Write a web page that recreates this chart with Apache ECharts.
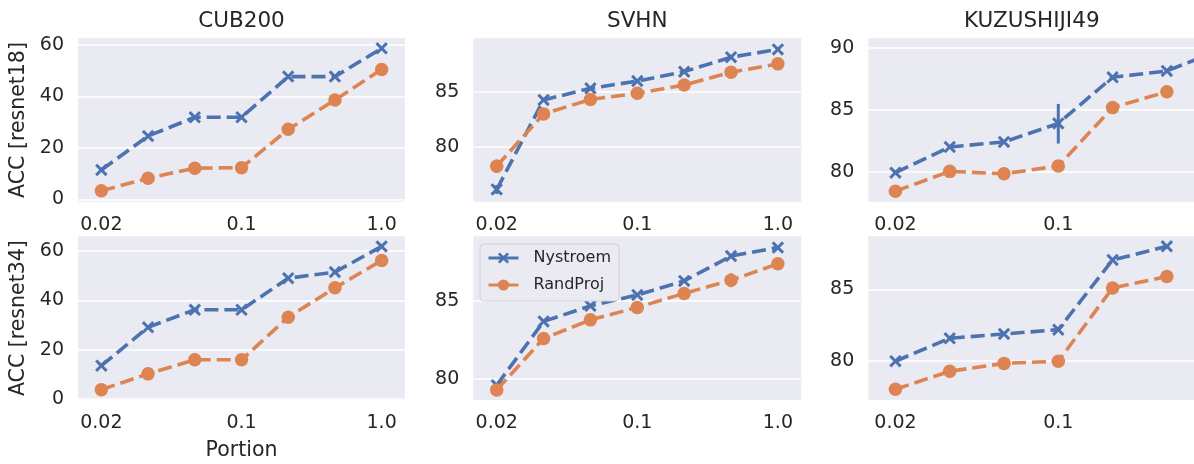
<!DOCTYPE html>
<html>
<head>
<meta charset="utf-8">
<script src="https://cdn.jsdelivr.net/npm/echarts@6/dist/echarts.min.js"></script>
<style>html,body{margin:0;padding:0;background:#fff}#c{width:1194px;height:464px}</style>
</head>
<body>
<div id="c"></div>
<script>
// ---- data ----
const datasets = ['CUB200', 'SVHN', 'KUZUSHIJI49'];
const models = ['resnet18', 'resnet34'];
const methods = ['Nystroem', 'RandProj'];
const xTickIdx = [0, 3, 6];
const xTickLabels = ['0.02', '0.1', '1.0'];
const xLabel = 'Portion';

const cub18_nys  = [11.4, 24.6, 31.9, 31.9, 47.7, 47.7, 58.7];
const cub18_rp   = [3.3, 8.2, 12.1, 12.3, 27.2, 38.6, 50.5];
const svhn18_nys = [76.2, 84.25, 85.3, 85.95, 86.8, 88.1, 88.8];
const svhn18_rp  = [78.3, 83.0, 84.3, 84.85, 85.6, 86.75, 87.5];
const kuzu18_nys = [79.94, 82.02, 82.43, 83.92, 87.65, 88.16, 89.9];
const kuzu18_rp  = [78.45, 80.05, 79.86, 80.48, 85.2, 86.48, null];
const cub34_nys  = [13.5, 29.1, 36.2, 36.2, 49.0, 51.5, 61.9];
const cub34_rp   = [3.8, 10.2, 15.9, 15.9, 33.2, 45.1, 56.2];
const svhn34_nys = [79.6, 83.7, 84.7, 85.4, 86.3, 87.9, 88.45];
const svhn34_rp  = [79.3, 82.6, 83.8, 84.6, 85.5, 86.35, 87.4];
const kuzu34_nys = [80.0, 81.6, 81.9, 82.2, 87.05, 88.0, null];
const kuzu34_rp  = [78.05, 79.3, 79.85, 80.0, 85.1, 85.9, null];

// error bars: [category index, low, high]
const svhn18_nys_err = [[0, 75.8, 76.6]];
const svhn18_rp_err  = [[0, 77.7, 78.9]];
const kuzu18_nys_err = [[3, 82.3, 85.5]];
const svhn34_rp_err  = [[5, 85.9, 86.8]];

// y ticks per panel
const yTicks = [[0, 20, 40, 60], [80, 85], [80, 85, 90], [0, 20, 40, 60], [80, 85], [80, 85]];
const yRanges = [[-0.93, 62.6], [75.1, 89.8], [77.6, 90.8], [-0.4, 66.0], [78.65, 89.17], [77.3, 88.7]];
const xRanges = [[-0.5, 6.5], [-0.5, 6.5], [-0.5, 5.5], [-0.5, 6.5], [-0.5, 6.5], [-0.5, 5.5]];

const panels = [
  {nys: cub18_nys, rp: cub18_rp, nysErr: [], rpErr: []},
  {nys: svhn18_nys, rp: svhn18_rp, nysErr: svhn18_nys_err, rpErr: svhn18_rp_err},
  {nys: kuzu18_nys, rp: kuzu18_rp, nysErr: kuzu18_nys_err, rpErr: []},
  {nys: cub34_nys, rp: cub34_rp, nysErr: [], rpErr: []},
  {nys: svhn34_nys, rp: svhn34_rp, nysErr: [], rpErr: svhn34_rp_err},
  {nys: kuzu34_nys, rp: kuzu34_rp, nysErr: [], rpErr: []}
];

// ---- layout / style ----
const BLUE = '#4C72B0', ORANGE = '#DD8452', TXT = '#262626';
const FONT = 'DejaVu Sans';
const colLeft = [78, 473.3, 868.3];
const colWidth = [327, 328, 327];
const rowTop = [38.3, 236.3];
const rowHeight = [163.4, 163.7];
const XSYM = 'path://M0,1.7L1.7,0L5,3.3L8.3,0L10,1.7L6.7,5L10,8.3L8.3,10L5,6.7L1.7,10L0,8.3L3.3,5Z';

const grids = [], xAxes = [], yAxes = [], series = [], titles = [];
datasets.forEach((d, c) => {
  titles.push({
    text: d, left: colLeft[c] + colWidth[c] / 2, top: 10, textAlign: 'center', padding: 0,
    textStyle: {fontFamily: FONT, fontSize: 21.5, fontWeight: 'normal', color: TXT}
  });
});

for (let i = 0; i < 6; i++) {
  const r = Math.floor(i / 3), c = i % 3;
  grids.push({left: colLeft[c], top: rowTop[r], width: colWidth[c], height: rowHeight[r],
    show: true, backgroundColor: '#EAEAF2', borderWidth: 0});
  xAxes.push({
    type: 'value', gridIndex: i, min: xRanges[i][0], max: xRanges[i][1],
    name: (r === 1 && c === 0) ? xLabel : '', nameLocation: 'middle', nameGap: 40,
    nameTextStyle: {fontFamily: FONT, fontSize: 20.5, color: TXT},
    axisLine: {show: false}, axisTick: {show: false, customValues: xTickIdx},
    splitLine: {show: false},
    axisLabel: {customValues: xTickIdx, margin: 14, fontFamily: FONT, fontSize: 19, color: TXT,
      formatter: v => xTickLabels[xTickIdx.indexOf(Math.round(v))]}
  });
  yAxes.push({
    type: 'value', gridIndex: i, min: yRanges[i][0], max: yRanges[i][1],
    name: c === 0 ? 'ACC [' + models[r] + ']' : '', nameLocation: 'middle', nameGap: 49,
    nameTextStyle: {fontFamily: FONT, fontSize: 20.5, color: TXT},
    axisLine: {show: false}, axisTick: {show: false, customValues: yTicks[i]},
    splitLine: {show: true, lineStyle: {color: '#ffffff', width: 1.5}},
    axisLabel: {customValues: yTicks[i], margin: 14, fontFamily: FONT, fontSize: 19, color: TXT,
      formatter: v => String(Math.round(v))}
  });
  const p = panels[i];
  const toPts = arr => arr.map((v, j) => [j, v]).filter(q => q[1] !== null);
  const errSeries = (arr, color) => ({
    type: 'custom', xAxisIndex: i, yAxisIndex: i, data: arr, silent: true, z: 3,
    encode: {x: 0, y: [1, 2]},
    renderItem: (params, api) => {
      const a = api.coord([api.value(0), api.value(1)]);
      const b = api.coord([api.value(0), api.value(2)]);
      return {type: 'line', shape: {x1: a[0], y1: a[1], x2: b[0], y2: b[1]},
        style: {stroke: color, lineWidth: 3}};
    }
  });
  series.push({
    name: methods[0], type: 'line', xAxisIndex: i, yAxisIndex: i, data: toPts(p.nys),
    symbol: XSYM, symbolSize: 12.5, color: BLUE, z: 2,
    itemStyle: {color: BLUE},
    lineStyle: {color: BLUE, width: 3.6, type: [14, 6]}, animation: false
  });
  series.push(errSeries(p.nysErr, BLUE));
  series.push({
    name: methods[1], type: 'line', xAxisIndex: i, yAxisIndex: i, data: toPts(p.rp),
    symbol: 'circle', symbolSize: 13.5, color: ORANGE, z: 4,
    itemStyle: {color: ORANGE},
    lineStyle: {color: ORANGE, width: 3.6, type: [14, 6]}, animation: false
  });
  series.push(Object.assign(errSeries(p.rpErr, ORANGE), {z: 5}));
}

const chart = echarts.init(document.getElementById('c'), null, {renderer: 'canvas'});
chart.setOption({
  animation: false,
  backgroundColor: '#ffffff',
  title: titles,
  grid: grids, xAxis: xAxes, yAxis: yAxes, series: series,
  legend: {
    data: methods, orient: 'vertical', left: 480, top: 244,
    padding: [6, 8, 8, 7], itemGap: 11, itemWidth: 30, itemHeight: 14,
    backgroundColor: '#EAEAF2', borderColor: '#d0d0d4', borderWidth: 1, borderRadius: 4,
    lineStyle: {type: 'solid', width: 3},
    textStyle: {fontFamily: FONT, fontSize: 16, color: TXT, padding: [0, 0, 0, 10]}
  }
});
</script>
</body>
</html>
